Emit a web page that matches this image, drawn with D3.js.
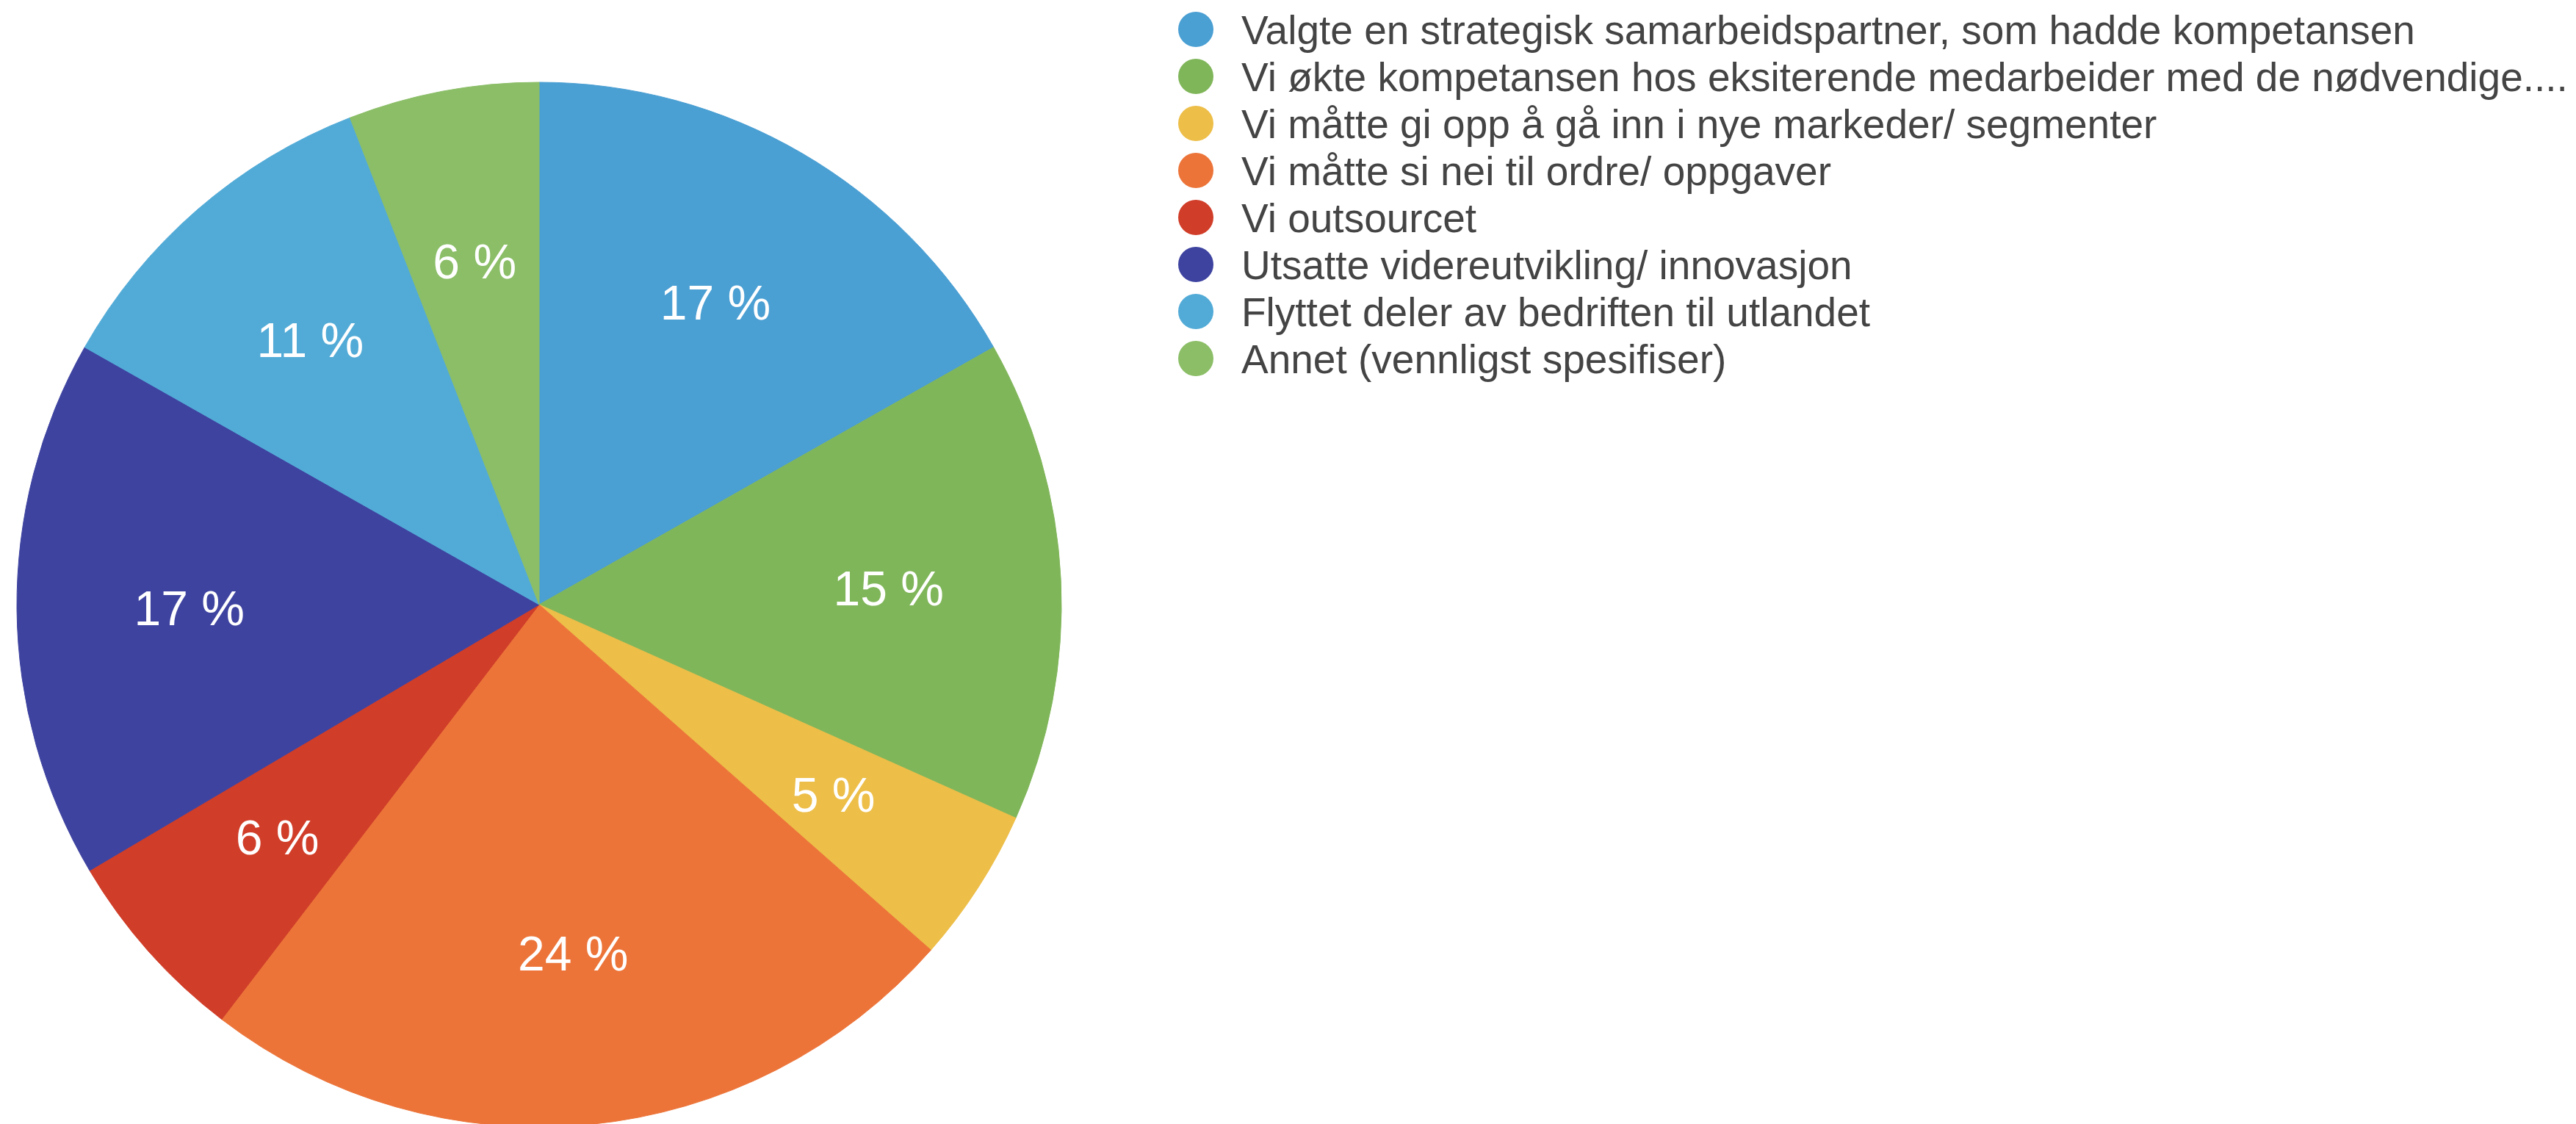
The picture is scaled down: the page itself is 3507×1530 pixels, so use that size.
<!DOCTYPE html>
<html>
<head>
<meta charset="utf-8">
<script src="https://cdn.jsdelivr.net/npm/d3@7"></script>
<style>
  body { margin: 0; background: #fff; }
  text { font-family: 'Liberation Sans', Arial, Helvetica, sans-serif; }
</style>
</head>
<body>
<div class="container"></div>
<script>
const w = 3507;
const h = 1530;

// Answer categories (legend order = slice order, clockwise from 12 o'clock)
const categories = [
  'Valgte en strategisk samarbeidspartner, som hadde kompetansen',
  'Vi økte kompetansen hos eksiterende medarbeider med de nødvendige....',
  'Vi måtte gi opp å gå inn i nye markeder/ segmenter',
  'Vi måtte si nei til ordre/ oppgaver',
  'Vi outsourcet',
  'Utsatte videreutvikling/ innovasjon',
  'Flyttet deler av bedriften til utlandet',
  'Annet (vennligst spesifiser)'
];
// Share in percent
const values = [16.8, 14.9, 4.8, 23.9, 6.1, 16.7, 10.9, 5.9];
const colors = ['#4a9fd3', '#80b65a', '#edbe48', '#ec7439', '#d03d28', '#3e43a0', '#52abd7', '#8bbe67'];

const cx = 734;
const cy = 823;
const r = 711;

const data = categories.map((c, i) => ({ name: c, value: values[i], color: colors[i] }));

const svg = d3.select('.container')
  .append('svg')
  .attr('width', w)
  .attr('height', h)
  .style('display', 'block');

// Pie
const pie = d3.pie()
  .sort(null)
  .value((d) => d.value);

const arc = d3.arc()
  .innerRadius(0)
  .outerRadius(r);

const labelArc = d3.arc()
  .innerRadius(r * 0.67)
  .outerRadius(r * 0.67);

const g = svg.append('g')
  .attr('transform', 'translate(' + cx + ',' + cy + ')');

const slices = g.selectAll('.slice')
  .data(pie(data))
  .enter()
  .append('g')
  .attr('class', 'slice');

slices.append('path')
  .attr('d', arc)
  .attr('fill', (d) => d.data.color)
  .attr('stroke', (d) => d.data.color)
  .attr('stroke-width', 1);

const total = d3.sum(values);
slices.append('text')
  .attr('transform', (d) => 'translate(' + labelArc.centroid(d) + ')')
  .attr('text-anchor', 'middle')
  .attr('dy', '0.36em')
  .attr('fill', '#fff')
  .style('font-size', '66px')
  .text((d) => Math.round(d.data.value / total * 100) + ' %');

// Legend
const legend = svg.selectAll('.legend')
  .data(data)
  .enter()
  .append('g')
  .attr('class', 'legend')
  .attr('transform', (d, i) => 'translate(1628,' + (40 + i * 64) + ')');

legend.append('circle')
  .attr('r', 24)
  .attr('fill', (d) => d.color);

legend.append('text')
  .attr('x', 62)
  .attr('dy', '0.36em')
  .attr('fill', '#444')
  .style('font-size', '55px')
  .text((d) => d.name);
</script>
</body>
</html>
